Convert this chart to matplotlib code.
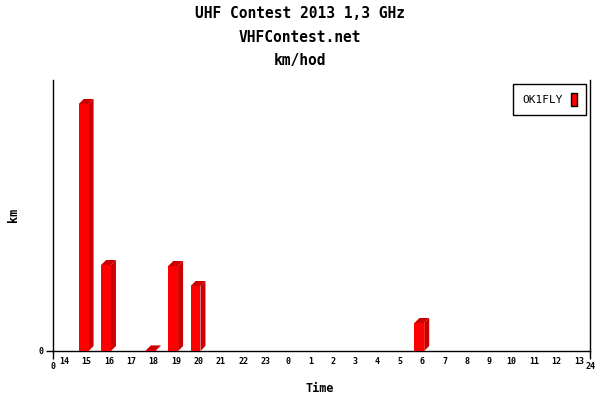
#!/usr/bin/python3

import numpy as np
import matplotlib
matplotlib.use('Agg')
import matplotlib.pyplot as plt
from matplotlib.patches import Polygon, Rectangle
from matplotlib.transforms import IdentityTransform

### Data
hours = [14, 15, 16, 17, 18, 19, 20, 21, 22, 23, 0, 1, 2, 3, 4, 5, 6, 7, 8, 9, 10, 11, 12, 13]
km = [0, 1235, 430, 0, 3, 425, 325, 0, 0, 0, 0, 0, 0, 0, 0, 0, 140, 0, 0, 0, 0, 0, 0, 0]
station = 'OK1FLY'
titles = ['UHF Contest 2013 1,3 GHz', 'VHFContest.net', 'km/hod']
km_top = 1355

MONO = 'DejaVu Sans Mono'
FRONT = '#ff0000'
SIDE = '#cc0000'
BAR_W = 0.44

fig = plt.figure(figsize=(6, 4), dpi=100)
ax = fig.add_axes([53/600, 49/400, 537/600, 271/400])
ax.set_xlim(0, 24)
ax.set_ylim(0, km_top)

# front faces
xs = np.arange(len(hours)) + 0.5 - 0.13
ax.bar(xs, km, width=BAR_W, color=FRONT, zorder=3)

# fake 3d: side + top faces, offset in pixels
depth = 5
for x, v in zip(xs, km):
    if v <= 0:
        continue
    (xl, y0), (xr, y1) = ax.transData.transform([(x - BAR_W/2, 0), (x + BAR_W/2, v)])
    side = [(xr, y0), (xr, y1), (xr + depth, y1 + depth), (xr + depth, y0 + depth)]
    top = [(xl, y1), (xr, y1), (xr + depth, y1 + depth), (xl + depth, y1 + depth)]
    for pts in (side, top):
        ax.add_patch(Polygon(pts, closed=True, fc=SIDE, ec='none',
                             transform=IdentityTransform(), zorder=2))

# axes
ax.spines['top'].set_visible(False)
for s in ('left', 'bottom', 'right'):
    ax.spines[s].set_linewidth(1)
ax.set_xticks([0, 24])
ax.set_xticklabels(['0', '24'], fontsize=6, family=MONO, fontweight='bold')
ax.set_xticks(np.arange(len(hours)) + 0.5, minor=True)
ax.set_xticklabels([str(h) for h in hours], minor=True, fontsize=6, family=MONO,
                   fontweight='bold')
ax.tick_params(axis='x', which='major', length=6, width=1, pad=2)
ax.tick_params(axis='x', which='minor', length=0, pad=4)
ax.set_yticks([0])
ax.set_yticklabels(['0'], fontsize=6, family=MONO, fontweight='bold')
ax.tick_params(axis='y', length=5, width=1, pad=2)

leg = ax.legend(handles=[Rectangle((0, 0), 1, 1, fc=FRONT, ec='black', lw=1)],
                labels=[station], loc='upper right', markerfirst=False,
                fancybox=False, edgecolor='black', framealpha=1,
                handlelength=0.6, handleheight=1.5, handletextpad=0.7,
                borderaxespad=0.35, borderpad=0.8,
                prop={'family': MONO, 'size': 8})
leg.get_frame().set_linewidth(1)

# titles and labels
for y, t in zip([14, 37, 60], titles):
    fig.text(0.5, 1 - y/400, t, ha='center', va='center', fontsize=10.5,
             family=MONO, fontweight='bold')
fig.text(13/600, 1 - 215/400, 'km', rotation=90, ha='center', va='center',
         fontsize=8.5, fontweight='bold', family=MONO)
fig.text(320/600, 1 - 388/400, 'Time', ha='center', va='center',
         fontsize=8.5, fontweight='bold', family=MONO)

fig.savefig('out.png', dpi=100)
plt.close(fig)
